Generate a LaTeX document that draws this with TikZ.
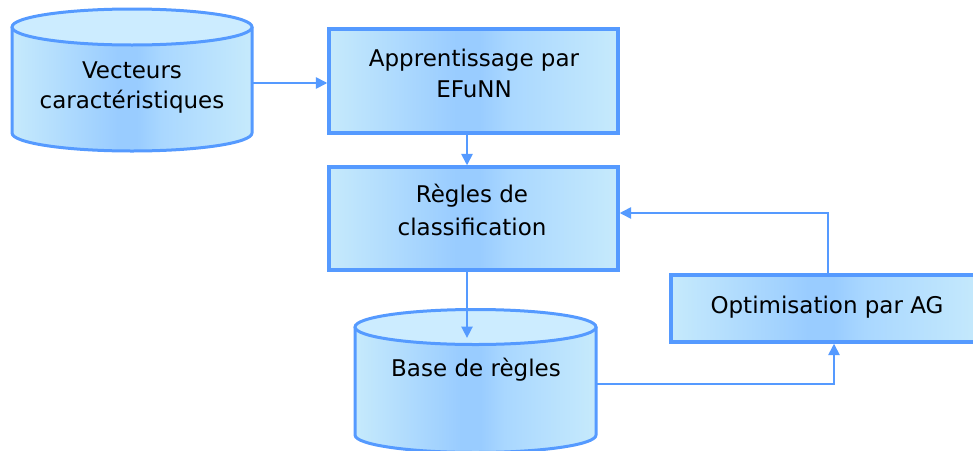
\documentclass[tikz,border=0pt]{standalone}
\usepackage{fontspec}
\setmainfont{DejaVu Sans}
\usetikzlibrary{arrows.meta}
\definecolor{edgeblue}{HTML}{559AFF}
\definecolor{lite}{HTML}{C6EAFC}
\definecolor{deep}{HTML}{99CCFF}
\definecolor{midb}{HTML}{A9D7FF}
\definecolor{topc}{HTML}{CCECFF}
\pgfdeclarehorizontalshading{flowshade}{100bp}{color(0bp)=(lite); color(25bp)=(lite); color(47bp)=(deep); color(51bp)=(deep); color(56bp)=(midb); color(75bp)=(lite); color(100bp)=(lite)}
\tikzset{
  boxnode/.style={rectangle, draw=edgeblue, line width=3.2pt, preaction={shading=flowshade}, inner sep=0pt},
  cylbody/.style={shading=flowshade},
  cylline/.style={draw=edgeblue, line width=3pt, line join=round},
  cyltop/.style={draw=edgeblue, line width=3pt, fill=topc},
  conn/.style={draw=edgeblue, line width=2.6pt, -{Triangle[length=11.5pt,width=11pt]}},
  txt/.style={inner sep=0pt, align=center, text=black},
}
\begin{document}
\begin{tikzpicture}[x=1pt,y=-1pt]
\clip (0,0) rectangle (973,450);
\fill[white] (0,0) rectangle (973,450);

% cylinder 1 : Vecteurs caracteristiques
\path[cylbody] (12,27) -- (12,133) arc[start angle=180,end angle=360,x radius=120pt,y radius=18pt] -- (252,27) -- cycle;
\draw[cylline] (12,27) -- (12,133) arc[start angle=180,end angle=360,x radius=120pt,y radius=18pt] -- (252,27);
\draw[cyltop] (132,27) ellipse [x radius=120pt, y radius=18pt];
\coordinate (feat-e) at (252,83);
\node[txt, font=\fontsize{23}{30}\selectfont, anchor=north] (feat-t) at (132,53) {\rule{0pt}{25pt}Vecteurs\\caractéristiques};

% cylinder 2 : Base de regles
\path[cylbody] (355,327) -- (355,435) arc[start angle=180,end angle=360,x radius=120.5pt,y radius=17.5pt] -- (596,327) -- cycle;
\draw[cylline] (355,327) -- (355,435) arc[start angle=180,end angle=360,x radius=120.5pt,y radius=17.5pt] -- (596,327);
\draw[cyltop] (475.5,327) ellipse [x radius=120.5pt, y radius=17.5pt];
\coordinate (base-top) at (467,338);
\coordinate (base-e) at (596,384);
\node[txt, font=\fontsize{23}{31}\selectfont, anchor=base] (base-t) at (476,376) {Base de règles};

% boxes
\node[boxnode, minimum width=289pt, minimum height=104pt] (learn) at (473.5,81) {};
\node[txt, font=\fontsize{23}{31}\selectfont, anchor=north] (learn-t) at (474,41) {\rule{0pt}{25pt}Apprentissage par\\EFuNN};

\node[boxnode, minimum width=289pt, minimum height=103pt] (rules) at (473.5,218.5) {};
\node[txt, font=\fontsize{23}{33}\selectfont, anchor=north] (rules-t) at (472,177) {\rule{0pt}{25pt}Règles de\\classification};

\node[boxnode, minimum width=312pt, minimum height=67pt] (optim) at (827,308.5) {};
\node[txt, font=\fontsize{23}{31}\selectfont, anchor=base] (optim-t) at (827,313) {Optimisation par AG};

% connectors
\draw[conn] (feat-e) -- (feat-e -| learn.west);
\draw[conn] ([xshift=-6.5pt]learn.south) -- ([xshift=-6.5pt]rules.north);
\draw[conn] (rules.south -| base-top) -- (base-top);
\draw[conn] (base-e) -| ([xshift=7pt]optim.south);
\draw[conn] ([xshift=1pt]optim.north) |- ([yshift=5.5pt]rules.east);
\end{tikzpicture}
\end{document}
